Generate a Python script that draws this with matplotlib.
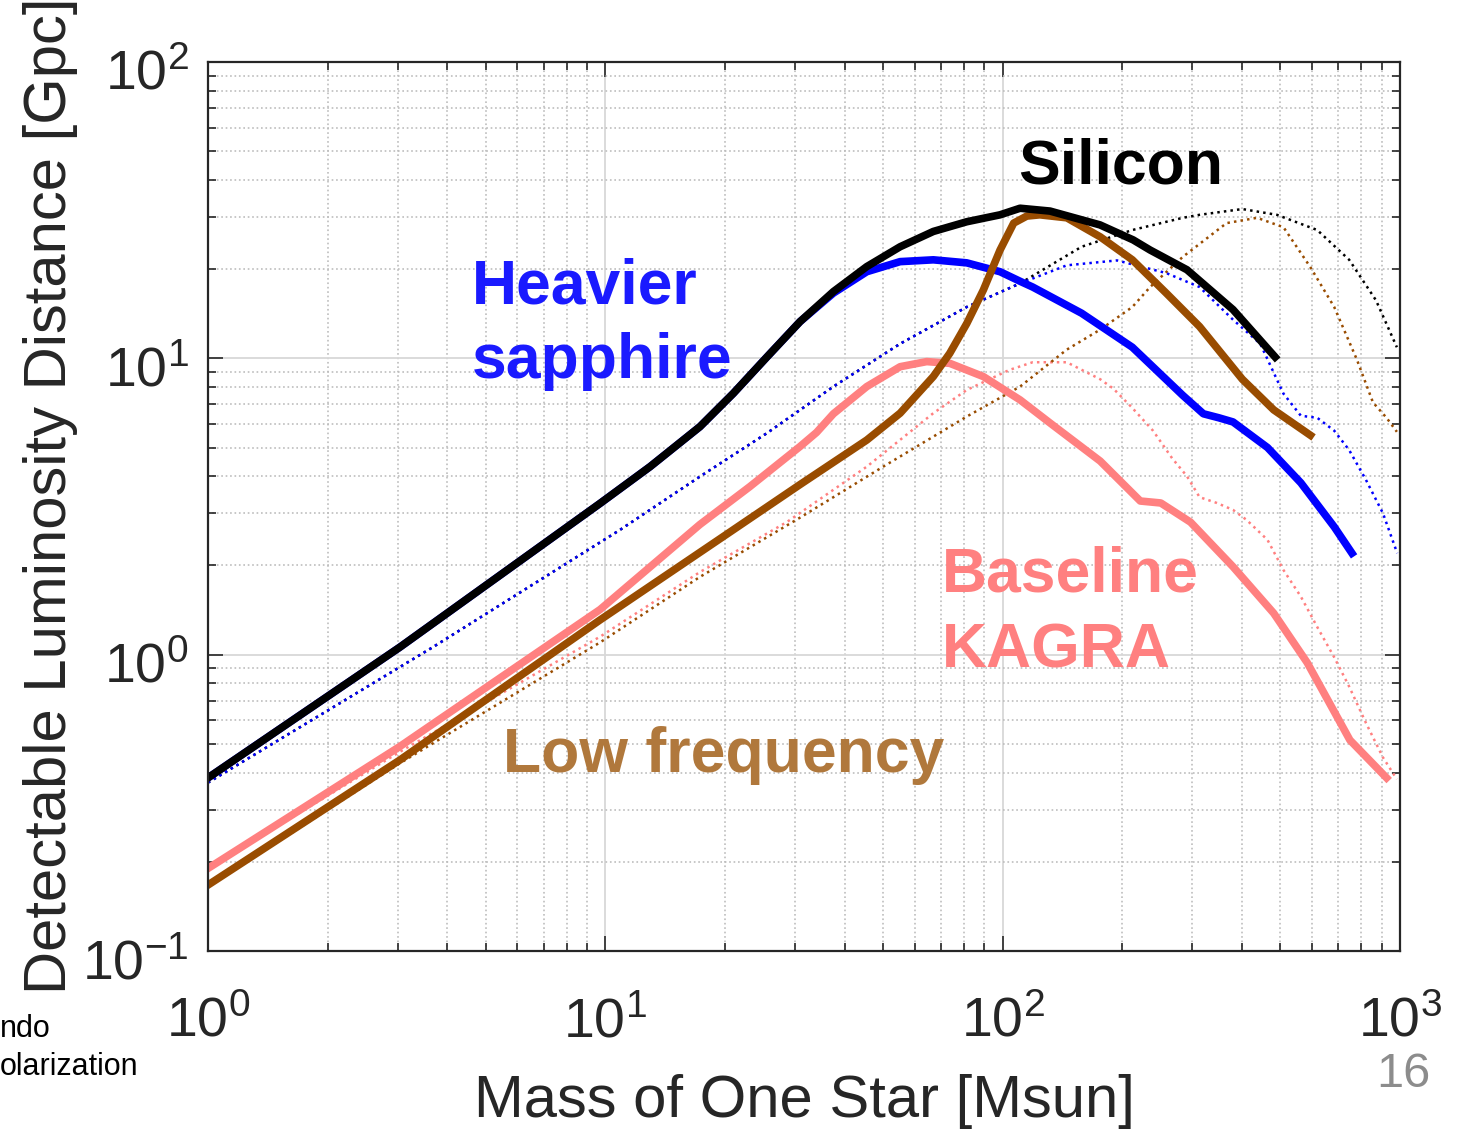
import matplotlib
matplotlib.use("Agg")
import matplotlib.pyplot as plt
import matplotlib.transforms as mtransforms

plt.rcParams['font.family'] = ['Liberation Sans', 'DejaVu Sans']
plt.rcParams['mathtext.fontset'] = 'custom'
plt.rcParams['mathtext.rm'] = 'Liberation Sans'
plt.rcParams['mathtext.it'] = 'Liberation Sans'
plt.rcParams['axes.unicode_minus'] = False

# ---- data (mass of one star [Msun], distance [Gpc]) ----
si_m = [1, 3.04, 9.7, 12.96, 17.3, 21.0, 25.5, 30.9, 37.5, 45.5, 55.2, 66.9, 81.2, 98.5, 110.6, 131.6, 175.8, 213, 235, 291, 380, 485]
si_d = [0.384, 1.06, 3.24, 4.31, 5.88, 7.62, 10.1, 13.3, 16.8, 20.4, 23.8, 26.8, 28.9, 30.5, 32.1, 31.4, 28.2, 25.1, 23.2, 19.9, 14.6, 10.1]

sa_m = [1, 3.04, 9.7, 12.96, 17.3, 21.0, 25.5, 30.9, 37.5, 45.5, 55.2, 66.9, 81.2, 98.5, 110.6, 119, 158, 212, 284, 320, 350, 380, 464, 563, 683, 757]
sa_d = [0.384, 1.06, 3.24, 4.31, 5.88, 7.62, 10.1, 13.3, 16.6, 19.6, 21.2, 21.5, 21.0, 19.6, 18.2, 17.4, 14.2, 10.9, 7.5, 6.5, 6.3, 6.1, 5.0, 3.8, 2.7, 2.2]

lf_m = [1, 3.04, 9.7, 21.0, 30.9, 45.5, 55.2, 66.9, 73.6, 81.2, 89.4, 98.5, 106.6, 115, 124, 145, 176, 212, 258, 313, 401, 481, 595]
lf_d = [0.167, 0.441, 1.31, 2.64, 3.75, 5.30, 6.53, 8.68, 10.4, 13.1, 17.0, 23.2, 28.6, 30.2, 30.5, 29.8, 25.7, 21.5, 16.6, 12.8, 8.5, 6.7, 5.5]

bl_m = [1, 3.04, 9.7, 17.3, 23.1, 30.9, 34.0, 37.5, 45.5, 55.2, 64.4, 73.6, 89.4, 110.6, 131.6, 176, 222, 250, 297, 380, 481, 584, 748, 925]
bl_d = [0.19, 0.49, 1.42, 2.75, 3.69, 5.04, 5.62, 6.5, 8.03, 9.37, 9.75, 9.62, 8.68, 7.24, 6.05, 4.5, 3.3, 3.25, 2.8, 1.98, 1.38, 0.94, 0.515, 0.384]

# dotted counterparts
si_dot_m = [1, 3.68, 10.9, 17.3, 25.5, 37.5, 55.2, 81.2, 110.6, 158, 212, 284, 313, 401, 490, 619, 745, 870, 982]
si_dot_d = [0.37, 1.06, 2.64, 3.99, 5.59, 8.03, 11.2, 14.9, 17.9, 23.8, 27.1, 29.8, 30.5, 31.9, 30.5, 27.1, 21.5, 15.7, 10.9]

sa_dot_m = [1, 3.68, 10.9, 17.3, 25.5, 37.5, 55.2, 81.2, 110.6, 145, 194, 258, 313, 380, 445, 509, 563, 619, 683, 745, 820, 906, 984]
sa_dot_d = [0.37, 1.06, 2.64, 3.99, 5.59, 8.03, 11.2, 14.9, 17.9, 20.6, 21.4, 19.4, 17.4, 13.5, 11.2, 7.6, 6.4, 6.3, 5.7, 4.9, 3.9, 3.0, 2.2]

lf_dot_m = [1, 3.04, 9.7, 17.3, 30.9, 49.9, 81.2, 110.6, 145, 176, 212, 235, 284, 366, 437, 509, 595, 683, 779, 855, 925, 982]
lf_dot_d = [0.165, 0.43, 1.1, 1.83, 2.9, 4.3, 6.36, 8.03, 10.7, 12.5, 14.9, 17.4, 22.0, 28.6, 29.8, 27.7, 20.3, 14.9, 9.9, 7.1, 6.3, 5.65]

bl_dot_m = [1, 3.04, 9.7, 17.3, 28.6, 45.5, 66.9, 81.2, 104, 119, 145, 176, 190, 212, 239, 267, 291, 313, 346, 380, 411, 464, 509, 563, 619, 683, 745, 820, 906, 982]
bl_dot_d = [0.19, 0.47, 1.15, 1.9, 2.8, 4.31, 6.53, 7.82, 9.14, 9.7, 9.7, 8.5, 7.9, 6.8, 5.7, 4.6, 4.0, 3.4, 3.25, 3.08, 2.85, 2.44, 1.93, 1.57, 1.24, 0.98, 0.78, 0.59, 0.45, 0.38]

BLACK = '#000000'
BLUE = '#0000ff'
PINK = '#ff8080'
BROWN = '#994c00'
AXC = '#262626'

W, H = 1457, 1133
fig = plt.figure(figsize=(W / 100, H / 100), dpi=100)
fig.set_facecolor('w')
ax = fig.add_axes([208 / W, 1 - 951 / H, (1400 - 208) / W, (951 - 62) / H])

# dotted lines first
ax.plot(bl_dot_m, bl_dot_d, ls=':', lw=1.8, color=PINK)
ax.plot(lf_dot_m, lf_dot_d, ls=':', lw=1.8, color=BROWN)
ax.plot(si_dot_m, si_dot_d, ls=':', lw=1.8, color=BLACK)
ax.plot(sa_dot_m, sa_dot_d, ls=':', lw=1.8, color=BLUE)

# solid lines
ax.plot(bl_m, bl_d, lw=5.5, color=PINK, solid_joinstyle='round')
ax.plot(sa_m, sa_d, lw=5.5, color=BLUE, solid_joinstyle='round')
ax.plot(lf_m, lf_d, lw=5.5, color=BROWN, solid_joinstyle='round')
ax.plot(si_m, si_d, lw=5.5, color=BLACK, solid_joinstyle='round')

ax.set_xscale('log')
ax.set_yscale('log')
ax.set_xlim(1, 1000)
ax.set_ylim(0.1, 100)

ax.grid(which='major', color='#d8d8d8', ls='-', lw=1.3)
ax.grid(which='minor', color='#bdbdbd', ls=':', lw=1.2)
ax.set_axisbelow(True)

for s in ax.spines.values():
    s.set_color(AXC)
    s.set_linewidth(1.6)

ax.tick_params(which='both', direction='in', top=True, right=True, color=AXC, width=1.2)
ax.tick_params(which='major', length=11, labelsize=40, labelcolor=AXC)
ax.tick_params(which='minor', length=6)
ax.tick_params(axis='x', which='major', pad=33)
ax.tick_params(axis='y', which='major', pad=14)

# nudge y tick labels down a little, like the MATLAB layout
shift = mtransforms.ScaledTranslation(0, -8 / 100, fig.dpi_scale_trans)
for t in ax.yaxis.get_major_ticks():
    t.label1.set_transform(t.label1.get_transform() + shift)

ax.set_xlabel('Mass of One Star [Msun]', fontsize=43, color=AXC)
ax.set_ylabel('Detectable Luminosity Distance [Gpc]', fontsize=43, color=AXC)
ax.xaxis.set_label_coords(0.5, -0.138)
ax.yaxis.set_label_coords(-0.109, 0.512)

# curve labels
lab = dict(fontsize=45, fontweight='bold', va='baseline', ha='left')
fig.text(1018 / W, 1 - 183 / H, 'Silicon', color=BLACK, **lab)
fig.text(472 / W, 1 - 303 / H, 'Heavier', color='#1a1aff', **lab)
fig.text(472 / W, 1 - 378 / H, 'sapphire', color='#1a1aff', **lab)
fig.text(942 / W, 1 - 592 / H, 'Baseline', color=PINK, **lab)
fig.text(942 / W, 1 - 667 / H, 'KAGRA', color=PINK, **lab)
fig.text(503 / W, 1 - 772 / H, 'Low frequency', color='#b0783c', **lab)

# slide leftovers
fig.text(0, 1 - 1037 / H, 'ndo', fontsize=22, color='k', va='baseline')
fig.text(0, 1 - 1075 / H, 'olarization', fontsize=22, color='k', va='baseline')
fig.text(1430 / W, 1 - 1087 / H, '16', fontsize=35, color='#8c8c8c', va='baseline', ha='right')

fig.savefig('out.png', dpi=100)
